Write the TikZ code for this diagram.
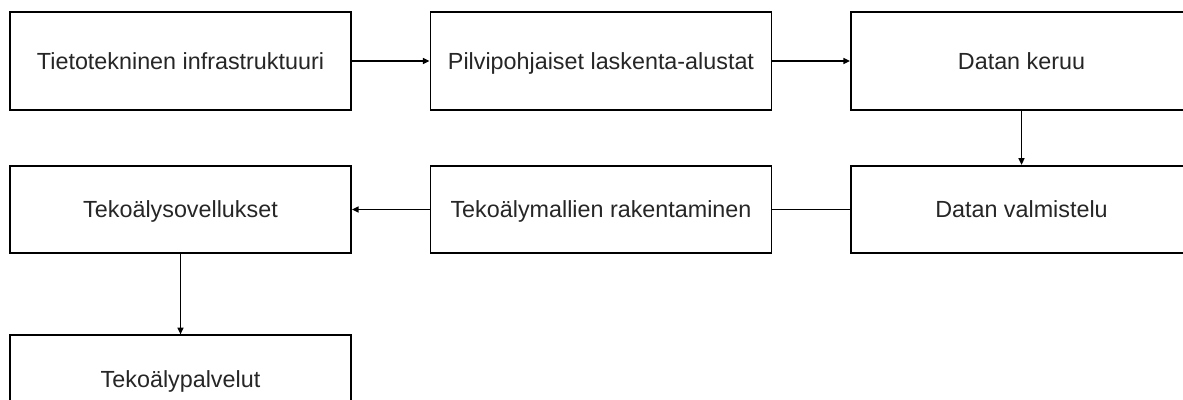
\documentclass[tikz,border=0pt]{standalone}
\usepackage{fontspec}
\setmainfont{Liberation Sans}
\usetikzlibrary{arrows.meta}
\begin{document}
\begin{tikzpicture}[x=0.75pt,y=-0.75pt,
  box/.style={draw, line width=1.3pt, minimum width=255.75pt, inner sep=0pt,
    text height=12.5pt, text depth=0pt,
    font=\fontsize{17.5pt}{20pt}\selectfont, text=black!85},
  rowtall/.style={minimum height=73.5pt},
  rowshort/.style={minimum height=65.6pt},
  conn/.style={line width=1.15pt, -{Triangle[length=5pt,width=4.5pt]}},
  plain/.style={line width=1.15pt}]
\clip (0,0) rectangle (1183,400);
\fill[white] (0,0) rectangle (1183,400);
\node[box,rowtall] (A) at (180.5,61) {Tietotekninen infrastruktuuri};
\node[box,rowtall] (B) at (601,61) {Pilvipohjaiset laskenta-alustat};
\node[box,rowtall] (C) at (1021.5,61) {Datan keruu};
\node[box,rowshort] (D) at (1021.5,209.5) {Datan valmistelu};
\node[box,rowshort] (E) at (601,209.5) {Tekoälymallien rakentaminen};
\node[box,rowshort] (F) at (180.5,209.5) {Tekoälysovellukset};
\node[box,rowshort] (G) at (180.5,379) {Tekoälypalvelut};
\draw[conn] (A) -- (B);
\draw[conn] (B) -- (C);
\draw[conn] (C) -- (D);
\draw[plain] (D) -- (E);
\draw[conn] (E) -- (F);
\draw[conn] (F) -- (G);
\end{tikzpicture}
\end{document}
